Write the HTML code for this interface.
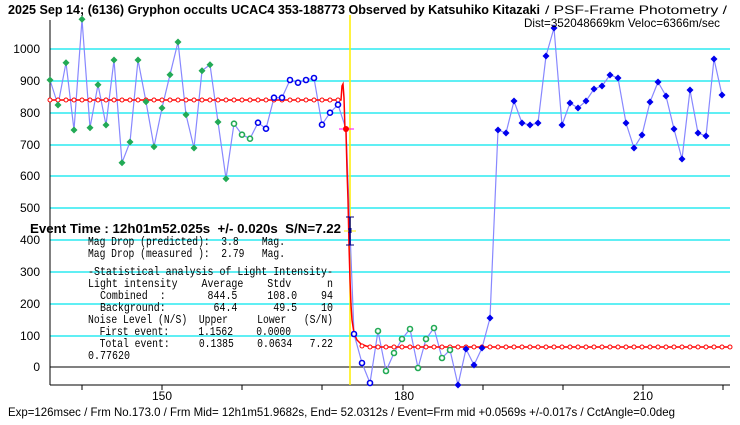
<!DOCTYPE html>
<html><head><meta charset="utf-8"><style>
html,body{margin:0;padding:0;background:#fff;}
svg{display:block;}
text{font-family:"Liberation Sans","Noto Sans CJK JP",sans-serif;}
.m text{font-family:"Liberation Mono","Noto Sans CJK JP",monospace;font-size:12px;white-space:pre;}
</style></head><body>
<svg width="740" height="425" viewBox="0 0 740 425" xmlns="http://www.w3.org/2000/svg">
<rect width="740" height="425" fill="#fff"/>
<defs>
<path id="df" d="M0,-3.5 L3.5,0 L0,3.5 L-3.5,0Z"/>
</defs>
<g stroke="#00e5ee" stroke-width="1.2">
<line x1="50" x2="730" y1="49" y2="49"/><line x1="50" x2="730" y1="81" y2="81"/>
<line x1="50" x2="730" y1="113" y2="113"/><line x1="50" x2="730" y1="145" y2="145"/>
<line x1="50" x2="730" y1="176" y2="176"/><line x1="50" x2="730" y1="208" y2="208"/>
<line x1="50" x2="730" y1="240" y2="240"/><line x1="50" x2="730" y1="272" y2="272"/>
<line x1="50" x2="730" y1="304" y2="304"/><line x1="50" x2="730" y1="336" y2="336"/>
</g>
<line x1="50" x2="730" y1="367" y2="367" stroke="#000"/>
<line x1="50" x2="50" y1="20" y2="385" stroke="#000"/>
<line x1="50" x2="730" y1="385" y2="385" stroke="#000"/>
<g stroke="#000">
<line x1="82" x2="82" y1="385" y2="390"/><line x1="162" x2="162" y1="385" y2="390"/>
<line x1="242" x2="242" y1="385" y2="390"/><line x1="322" x2="322" y1="385" y2="390"/>
<line x1="403" x2="403" y1="385" y2="390"/><line x1="483" x2="483" y1="385" y2="390"/>
<line x1="563" x2="563" y1="385" y2="390"/><line x1="643" x2="643" y1="385" y2="390"/>
<line x1="723" x2="723" y1="385" y2="390"/>
</g>
<g font-size="12" text-anchor="end" fill="#000">
<text x="40" y="53">1000</text><text x="40" y="85">900</text><text x="40" y="117">800</text>
<text x="40" y="149">700</text><text x="40" y="180">600</text><text x="40" y="212">500</text>
<text x="40" y="244">400</text><text x="40" y="276">300</text><text x="40" y="308">200</text>
<text x="40" y="340">100</text><text x="40" y="371">0</text>
</g>
<g font-size="12" text-anchor="middle"><text x="162" y="400">150</text><text x="404" y="400">180</text><text x="643" y="400">210</text></g>
<line x1="350" x2="350" y1="15" y2="385" stroke="#ffee00" stroke-width="1.5"/>
<polyline fill="none" stroke="#8888ff" stroke-width="1.2" points="50,80 58,105 66,62.7 74,130 82,19.3 90,127.7 98,84.7 106,125 114,60 122,162.7 130,142 138,60 146,101.7 154,146.7 162,108 170,74.7 178,42 186,114.7 194,148 202,70.7 210,64.7 218,122 226,178.7 234,123.7 242,134.7 250,138.7 258,122.7 266,128.7 274,97.7 282,97.7 290,80 298,82.7 306,80 314,78 322,124.7 330,112.7 338,104.7 346,129 354,334 362,363 370,383 378,331 386,371 394,353 402,339 410,329 418,368 426,339 434,328 442,358 450,350 458,385 466,349 474,365 482,348 490,318 498,130 506,133 514,101 522,123 530,125 538,123 546,56 554,28 562,125 570,103 578,108 586,101 594,89 602,86 610,75 618,78 626,123 634,148 642,135 650,102 658,82 666,96 674,129 682,159 690,90 698,133 706,136 714,59 722,95"/>
<polyline fill="none" stroke="#ff0000" stroke-width="1.5" points="50,100 341,100 342,86 343,84 344,98 345,130 346,132 347,170 348,200 349,245 350,280 351,305 352,320 354,333 357,340 361,344 366,346 372,347 730,347"/>
<g fill="#fff" stroke="#ff0000" stroke-width="1">
<circle cx="50" cy="100" r="2"/><circle cx="58" cy="100" r="2"/><circle cx="66" cy="100" r="2"/><circle cx="74" cy="100" r="2"/><circle cx="82" cy="100" r="2"/><circle cx="90" cy="100" r="2"/><circle cx="98" cy="100" r="2"/><circle cx="106" cy="100" r="2"/><circle cx="114" cy="100" r="2"/><circle cx="122" cy="100" r="2"/><circle cx="130" cy="100" r="2"/><circle cx="138" cy="100" r="2"/><circle cx="146" cy="100" r="2"/><circle cx="154" cy="100" r="2"/><circle cx="162" cy="100" r="2"/><circle cx="170" cy="100" r="2"/><circle cx="178" cy="100" r="2"/><circle cx="186" cy="100" r="2"/><circle cx="194" cy="100" r="2"/><circle cx="202" cy="100" r="2"/><circle cx="210" cy="100" r="2"/><circle cx="218" cy="100" r="2"/><circle cx="226" cy="100" r="2"/><circle cx="234" cy="100" r="2"/><circle cx="242" cy="100" r="2"/><circle cx="250" cy="100" r="2"/><circle cx="258" cy="100" r="2"/><circle cx="266" cy="100" r="2"/><circle cx="274" cy="100" r="2"/><circle cx="282" cy="100" r="2"/><circle cx="290" cy="100" r="2"/><circle cx="298" cy="100" r="2"/><circle cx="306" cy="100" r="2"/><circle cx="314" cy="100" r="2"/><circle cx="322" cy="100" r="2"/><circle cx="330" cy="100" r="2"/><circle cx="338" cy="100" r="2"/>
<circle cx="362" cy="346" r="2"/><circle cx="370" cy="347" r="2"/><circle cx="378" cy="347" r="2"/><circle cx="386" cy="347" r="2"/><circle cx="394" cy="347" r="2"/><circle cx="402" cy="347" r="2"/><circle cx="410" cy="347" r="2"/><circle cx="418" cy="347" r="2"/><circle cx="426" cy="347" r="2"/><circle cx="434" cy="347" r="2"/><circle cx="442" cy="347" r="2"/><circle cx="450" cy="347" r="2"/><circle cx="458" cy="347" r="2"/><circle cx="466" cy="347" r="2"/><circle cx="474" cy="347" r="2"/><circle cx="482" cy="347" r="2"/><circle cx="490" cy="347" r="2"/><circle cx="498" cy="347" r="2"/><circle cx="506" cy="347" r="2"/><circle cx="514" cy="347" r="2"/><circle cx="522" cy="347" r="2"/><circle cx="530" cy="347" r="2"/><circle cx="538" cy="347" r="2"/><circle cx="546" cy="347" r="2"/><circle cx="554" cy="347" r="2"/><circle cx="562" cy="347" r="2"/><circle cx="570" cy="347" r="2"/><circle cx="578" cy="347" r="2"/><circle cx="586" cy="347" r="2"/><circle cx="594" cy="347" r="2"/><circle cx="602" cy="347" r="2"/><circle cx="610" cy="347" r="2"/><circle cx="618" cy="347" r="2"/><circle cx="626" cy="347" r="2"/><circle cx="634" cy="347" r="2"/><circle cx="642" cy="347" r="2"/><circle cx="650" cy="347" r="2"/><circle cx="658" cy="347" r="2"/><circle cx="666" cy="347" r="2"/><circle cx="674" cy="347" r="2"/><circle cx="682" cy="347" r="2"/><circle cx="690" cy="347" r="2"/><circle cx="698" cy="347" r="2"/><circle cx="706" cy="347" r="2"/><circle cx="714" cy="347" r="2"/><circle cx="722" cy="347" r="2"/><circle cx="730" cy="347" r="2"/>
</g>
<g fill="#22aa55">
<use href="#df" x="50" y="80"/><use href="#df" x="58" y="105"/><use href="#df" x="66" y="62.7"/><use href="#df" x="74" y="130"/><use href="#df" x="82" y="19.3"/><use href="#df" x="90" y="127.7"/><use href="#df" x="98" y="84.7"/><use href="#df" x="106" y="125"/><use href="#df" x="114" y="60"/><use href="#df" x="122" y="162.7"/><use href="#df" x="130" y="142"/><use href="#df" x="138" y="60"/><use href="#df" x="146" y="101.7"/><use href="#df" x="154" y="146.7"/><use href="#df" x="162" y="108"/><use href="#df" x="170" y="74.7"/><use href="#df" x="178" y="42"/><use href="#df" x="186" y="114.7"/><use href="#df" x="194" y="148"/><use href="#df" x="202" y="70.7"/><use href="#df" x="210" y="64.7"/><use href="#df" x="218" y="122"/><use href="#df" x="226" y="178.7"/>
</g>
<g fill="#fff" stroke="#22aa55" stroke-width="1.6">
<circle cx="234" cy="123.7" r="2.5"/><circle cx="242" cy="134.7" r="2.5"/><circle cx="250" cy="138.7" r="2.5"/>
<circle cx="378" cy="331" r="2.5"/><circle cx="386" cy="371" r="2.5"/><circle cx="394" cy="353" r="2.5"/><circle cx="402" cy="339" r="2.5"/><circle cx="410" cy="329" r="2.5"/><circle cx="418" cy="368" r="2.5"/><circle cx="426" cy="339" r="2.5"/><circle cx="434" cy="328" r="2.5"/><circle cx="442" cy="358" r="2.5"/><circle cx="450" cy="350" r="2.5"/>
</g>
<g fill="#fff" stroke="#0000ee" stroke-width="1.6">
<circle cx="258" cy="122.7" r="2.5"/><circle cx="266" cy="128.7" r="2.5"/><circle cx="274" cy="97.7" r="2.5"/><circle cx="282" cy="97.7" r="2.5"/><circle cx="290" cy="80" r="2.5"/><circle cx="298" cy="82.7" r="2.5"/><circle cx="306" cy="80" r="2.5"/><circle cx="314" cy="78" r="2.5"/><circle cx="322" cy="124.7" r="2.5"/><circle cx="330" cy="112.7" r="2.5"/><circle cx="338" cy="104.7" r="2.5"/>
<circle cx="354" cy="334" r="2.5"/><circle cx="362" cy="363" r="2.5"/><circle cx="370" cy="383" r="2.5"/>
</g>
<g fill="#0000ee">
<use href="#df" x="458" y="385"/><use href="#df" x="466" y="349"/><use href="#df" x="474" y="365"/><use href="#df" x="482" y="348"/><use href="#df" x="490" y="318"/><use href="#df" x="498" y="130"/><use href="#df" x="506" y="133"/><use href="#df" x="514" y="101"/><use href="#df" x="522" y="123"/><use href="#df" x="530" y="125"/><use href="#df" x="538" y="123"/><use href="#df" x="546" y="56"/><use href="#df" x="554" y="28"/><use href="#df" x="562" y="125"/><use href="#df" x="570" y="103"/><use href="#df" x="578" y="108"/><use href="#df" x="586" y="101"/><use href="#df" x="594" y="89"/><use href="#df" x="602" y="86"/><use href="#df" x="610" y="75"/><use href="#df" x="618" y="78"/><use href="#df" x="626" y="123"/><use href="#df" x="634" y="148"/><use href="#df" x="642" y="135"/><use href="#df" x="650" y="102"/><use href="#df" x="658" y="82"/><use href="#df" x="666" y="96"/><use href="#df" x="674" y="129"/><use href="#df" x="682" y="159"/><use href="#df" x="690" y="90"/><use href="#df" x="698" y="133"/><use href="#df" x="706" y="136"/><use href="#df" x="714" y="59"/><use href="#df" x="722" y="95"/>
</g>
<line x1="339" x2="354" y1="129" y2="129" stroke="#ff00ff"/>
<circle cx="346" cy="129" r="3" fill="#ff0000"/>
<line x1="350" x2="350" y1="217" y2="245" stroke="#000080" stroke-width="1.5"/>
<line x1="346" x2="354" y1="217" y2="217" stroke="#000080"/>
<line x1="346" x2="354" y1="245" y2="245" stroke="#000080"/>
<line x1="344" x2="356" y1="231" y2="231" stroke="#ffee00"/>
<rect x="348.5" y="228" width="3" height="5" fill="#000080"/>
<text x="8" y="14" font-size="12.5" font-weight="bold" textLength="532" lengthAdjust="spacingAndGlyphs">2025 Sep 14; (6136) Gryphon occults UCAC4 353-188773 Observed by Katsuhiko Kitazaki</text>
<text x="545" y="14" font-size="12" textLength="182" lengthAdjust="spacingAndGlyphs">/ PSF-Frame Photometry /</text>
<text x="524" y="27" font-size="12" textLength="196" lengthAdjust="spacingAndGlyphs">Dist=352048669km Veloc=6366m/sec</text>
<text x="30" y="233" font-size="12.5" font-weight="bold" style="white-space:pre" textLength="311" lengthAdjust="spacingAndGlyphs">Event Time : 12h01m52.025s  +/- 0.020s  S/N=7.22</text>
<g class="m" fill="#000">
<text x="88" y="245" textLength="197" lengthAdjust="spacingAndGlyphs">Mag Drop (predicted):  3.8    Mag.</text>
<text x="88" y="257" textLength="197" lengthAdjust="spacingAndGlyphs">Mag Drop (measured ):  2.79   Mag.</text>
<text x="88" y="275" textLength="245" lengthAdjust="spacingAndGlyphs">-Statistical analysis of Light Intensity-</text>
<text x="88" y="287" textLength="245" lengthAdjust="spacingAndGlyphs">Light intensity    Average    Stdv      n</text>
<text x="88" y="299" textLength="245" lengthAdjust="spacingAndGlyphs">  Combined  :       844.5     108.0    94</text>
<text x="88" y="311" textLength="245" lengthAdjust="spacingAndGlyphs">  Background:        64.4      49.5    10</text>
<text x="88" y="323" textLength="245" lengthAdjust="spacingAndGlyphs">Noise Level (N/S)  Upper     Lower   (S/N)</text>
<text x="88" y="335" textLength="203" lengthAdjust="spacingAndGlyphs">  First event:     1.1562    0.0000</text>
<text x="88" y="347" textLength="245" lengthAdjust="spacingAndGlyphs">  Total event:     0.1385    0.0634   7.22</text>
<text x="88" y="359" textLength="42" lengthAdjust="spacingAndGlyphs">0.77620</text>
</g>
<text x="8" y="416" font-size="12" textLength="667" lengthAdjust="spacingAndGlyphs">Exp=126msec / Frm No.173.0 / Frm Mid= 12h1m51.9682s,  End= 52.0312s / Event=Frm mid +0.0569s +/-0.017s / CctAngle=0.0deg</text>
</svg>
</body></html>
